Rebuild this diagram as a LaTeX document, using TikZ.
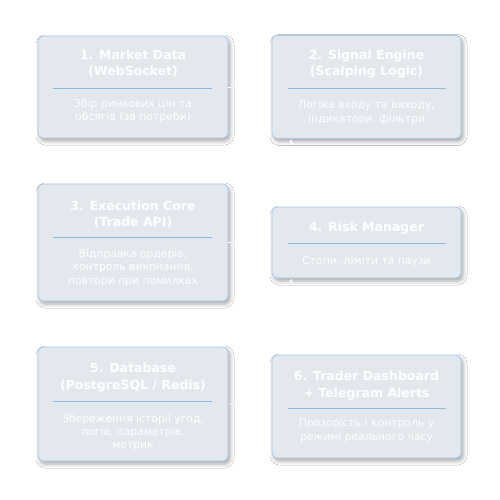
\documentclass[tikz,border=0pt]{standalone}
\usepackage{fontspec}
\setmainfont{DejaVu Sans}
\usetikzlibrary{arrows.meta,shadows.blur}
\definecolor{boxfill}{HTML}{E3E8EF}
\definecolor{boxedge}{HTML}{A8C8E8}
\definecolor{sepline}{HTML}{8DB8E0}
\tikzset{
  card/.style={draw=boxedge, line width=0.8pt, fill=boxfill, rounded corners=5pt,
    blur shadow={shadow xshift=2pt, shadow yshift=-3pt, shadow blur radius=4pt, shadow opacity=35},
    inner sep=0pt},
  ttl/.style={text=white, font=\bfseries\fontsize{12.5}{16.5}\selectfont, align=center, inner sep=0pt},
  desc/.style={text=white, font=\fontsize{10.8}{13.4}\selectfont, align=center, inner sep=0pt},
  sep/.style={draw=sepline, line width=0.7pt},
  link/.style={draw=white, line width=0.8pt, dashed, -{Stealth[length=5pt]}}
}
\begin{document}
\begin{tikzpicture}[x=1pt,y=-1pt]
\useasboundingbox (0,0) rectangle (500,500);
\fill[white] (0,0) rectangle (500,500);
% boxes
\node[card, minimum width=190pt, minimum height=102pt] (b1) at (133,87) {};
\node[card, minimum width=189pt, minimum height=103pt] (b2) at (366.5,87) {};
\node[card, minimum width=190pt, minimum height=117pt] (b3) at (133,242.5) {};
\node[card, minimum width=189pt, minimum height=71pt] (b4) at (366.5,242.5) {};
\node[card, minimum width=190pt, minimum height=114pt] (b5) at (133,404) {};
\node[card, minimum width=189pt, minimum height=103pt] (b6) at (366.5,406.5) {};
% separators
\coordinate (s1a) at (53,88);  \coordinate (s1b) at (212,88);
\coordinate (s2a) at (288,88); \coordinate (s2b) at (446,88);
\coordinate (s3a) at (53,237); \coordinate (s3b) at (212,237);
\coordinate (s4a) at (288,243); \coordinate (s4b) at (446,243);
\coordinate (s5a) at (53,401); \coordinate (s5b) at (212,401);
\coordinate (s6a) at (288,408); \coordinate (s6b) at (446,408);
\draw[sep] (s1a) -- (s1b);
\draw[sep] (s2a) -- (s2b);
\draw[sep] (s3a) -- (s3b);
\draw[sep] (s4a) -- (s4b);
\draw[sep] (s5a) -- (s5b);
\draw[sep] (s6a) -- (s6b);
% titles
\node[ttl] (t1) at (133,63.5) {1. Market Data\\(WebSocket)};
\node[ttl] (t2) at (366.5,64) {2. Signal Engine\\(Scalping Logic)};
\node[ttl] (t3) at (133,214.5) {3. Execution Core\\(Trade API)};
\node[ttl] (t4) at (366.5,228) {4. Risk Manager};
\node[ttl] (t5) at (133,377.5) {5. Database\\(PostgreSQL / Redis)};
\node[ttl] (t6) at (366.5,385.5) {6. Trader Dashboard\\+ Telegram Alerts};
% descriptions
\node[desc] (d1) at (133,111) {Збір ринкових цін та\\обсягів (за потреби)};
\node[desc] (d2) at (366.5,112.5) {Логіка входу та виходу,\\індикатори, фільтри};
\node[desc] (d3) at (133,268) {Відправка ордерів,\\контроль виконання,\\повтори при помилках};
\node[desc] (d4) at (366.5,262) {Стопи, ліміти та паузи};
\node[desc] (d5) at (133,432.5) {Збереження історії угод,\\логів, параметрів,\\метрик};
\node[desc] (d6) at (366.5,430.5) {Прозорість і контроль у\\режимі реального часу};
% connectors
\draw[link] (b1.east) -- (b2.west);
\draw[link] (b2.south west) ++(20,1) coordinate (c2) ;
\draw[link] (c2) -- (b3.north east);
\draw[link] (b3.east) -- (b4.west);
\draw[link] (b4.south west) ++(20,1) coordinate (c4) ;
\draw[link] (c4) -- (b5.north east);
\draw[link] (b5.east) -- (b6.west);
\end{tikzpicture}
\end{document}
